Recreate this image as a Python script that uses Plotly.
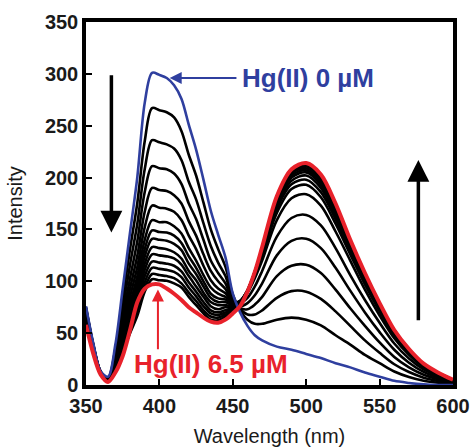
import plotly.graph_objects as go

# Wavelength grid (nm)
wavelength = [350, 355, 360, 365, 370, 375, 380, 385, 390, 395, 400, 405, 410, 415, 420,
              425, 430, 435, 440, 445, 450, 455, 460, 465, 470, 480, 490, 500, 510, 520,
              530, 540, 550, 560, 570, 580, 590, 600]

# Hg(II) 0 uM (blue)
hg_0uM = [76, 40, 13, 8, 39, 93, 147, 201, 272, 301, 299, 296, 289, 276, 251, 227, 198, 168,
          145, 123, 88, 70, 57, 48, 43, 37, 34, 30, 26, 21, 17, 12, 8, 4, 2, 0.6, 0, 0]

# Intermediate titration spectra (black)
c01 = [75, 39, 13, 7, 35, 83, 131, 176, 235, 267, 265, 263, 258, 245, 222, 202, 176, 150, 131,
       114, 87, 72, 63, 59, 59, 63, 65, 63, 57.5, 48, 39, 29, 21, 13, 7.7, 4.1, 2.1, 0.9]
c02 = [74, 38.5, 12.6, 6.2, 31, 73, 116, 156, 208, 236, 234, 232, 228, 217, 196, 179, 156, 134,
       118, 105, 83, 73, 68, 68, 72, 84, 90.5, 90, 83, 71, 57, 43, 31, 20, 12.5, 7.1, 3.9, 1.7]
c03 = [73, 38, 12.4, 5.7, 27, 65, 103, 139, 186, 211, 209, 208, 204, 194, 175, 160, 140, 120,
       108, 98, 81, 74, 73, 77.5, 85, 105, 115, 116, 108, 92, 74, 57, 41, 27, 17, 9.9, 5.5, 2.4]
c04 = [72, 37.4, 12.2, 5.2, 25, 59, 93, 125, 167, 190, 188, 187, 183, 175, 158, 144, 126, 110,
       100, 92.5, 80, 76, 79, 86.5, 98, 125, 139, 141, 132, 113, 91, 70, 51, 34, 21.5, 12.6, 7.1, 3.1]
c05 = [71, 36.9, 12.1, 4.9, 22.5, 54, 85, 114, 152, 173, 171, 170, 167, 159, 144, 131, 115, 101,
       93, 88.5, 80, 79, 84, 95, 110, 143, 161, 164, 154, 132, 106, 82, 60, 40, 25.5, 15, 8.5, 3.7]
c06 = [70, 36.4, 11.9, 4.6, 20.7, 49, 78, 105, 140, 159, 157, 157, 153, 146, 132, 120, 106, 94,
       88, 85, 80, 81, 89, 103, 120, 159, 180, 184, 173, 148, 120, 92, 67, 45, 29, 17, 9.7, 4.2]
c07 = [69, 35.9, 11.7, 4.4, 19.4, 46, 73, 98, 131, 149, 147.5, 147, 144, 137, 124, 113, 100, 88,
       83.5, 82.5, 78.5, 81, 91, 106, 124.5, 166, 189, 193, 181, 155.5, 126, 97, 71, 47, 30.6, 18,
       10.3, 4.5]
c08 = [68, 35.4, 11.6, 4.2, 18.3, 44, 69, 93, 124, 141, 140, 139, 136, 130, 117, 107, 95, 84, 80,
       80, 77, 81, 91, 107, 127, 170, 193.5, 198, 186, 160, 129, 99, 73, 49, 31.5, 18.7, 10.7, 4.6]
c09 = [67, 34.8, 11.4, 4, 17.3, 41, 65, 88, 117, 133, 132, 131, 128, 122, 110, 101, 89, 80, 77,
       77, 76, 80, 91, 108, 128, 173, 197, 202, 190, 163, 132, 101.5, 74, 50, 32, 19, 10.9, 4.7]
c10 = [66, 34.3, 11.2, 3.8, 16.4, 39, 62, 83, 111, 126, 125, 124, 122, 116, 105, 95, 85, 76, 73,
       75, 74, 80, 91, 109, 130, 175, 200, 205, 193, 166, 134, 103, 76, 51, 33, 19.5, 11.2, 4.8]
c11 = [65, 33.8, 11.1, 3.7, 15.5, 37, 58, 78.5, 105, 119, 118, 117, 115, 109.5, 99, 90, 80, 72,
       70, 72, 73, 79, 91, 109, 130, 176.5, 202, 207, 195, 167, 135, 104, 76, 51, 33, 19.7, 11.3, 4.9]
c12 = [64, 33.3, 10.9, 3.6, 14.7, 35, 55, 75, 99, 113, 112, 111, 109, 104, 94, 85.5, 76, 69,
       67.5, 70, 71.5, 78, 91, 109, 131, 178, 204, 209, 197, 169, 137, 105, 77, 52, 34, 20, 11.5, 4.9]
c13 = [63, 32.8, 10.7, 3.4, 13.9, 33, 52, 71, 94, 107, 106, 105, 103, 98, 89, 81, 72, 66, 65,
       68, 70, 77, 90, 109, 131.5, 179, 205.5, 211, 199, 171, 138, 106.5, 78, 52.5, 34, 20, 11.6, 5]
c14 = [62, 32.2, 10.5, 3.2, 13.3, 32, 50, 67, 90, 102, 101, 100.5, 98, 94, 85, 77, 69, 63, 62.5,
       66, 69, 76.5, 90, 109, 131.5, 180, 206, 212, 200, 172, 139, 107, 78.5, 53, 34.3, 20.4, 11.7, 5]
intermediate = [c01, c02, c03, c04, c05, c06, c07, c08, c09, c10, c11, c12, c13, c14]

# Hg(II) 6.5 uM (red)
hg_6_5uM = [58, 30, 10, 3, 12, 28, 53, 80, 93, 97, 97, 93, 88, 82, 75, 70, 65, 61, 60, 63, 69,
            76, 90, 109, 133, 182, 208, 214, 203, 175, 140, 108, 79, 53, 34.7, 20.6, 11.9, 5.1]

x_ticks = [350, 400, 450, 500, 550, 600]
y_ticks = [0, 50, 100, 150, 200, 250, 300, 350]

BLUE = "#2f3f9f"
RED = "#e8222b"
FONT = "Liberation Sans, Arial, sans-serif"
TXT = "#1a1a1a"

fig = go.Figure()
for series in intermediate:
    fig.add_trace(go.Scatter(x=wavelength, y=series, mode="lines",
                             line=dict(color="black", width=2.6, shape="spline", smoothing=0.9),
                             showlegend=False, hoverinfo="skip"))
fig.add_trace(go.Scatter(x=wavelength, y=hg_0uM, mode="lines",
                         line=dict(color=BLUE, width=2.6, shape="spline", smoothing=0.9),
                         showlegend=False))
fig.add_trace(go.Scatter(x=wavelength, y=hg_6_5uM, mode="lines",
                         line=dict(color=RED, width=4, shape="spline", smoothing=0.9),
                         showlegend=False))

annotations = [
    # big down arrow
    dict(x=367.3, y=147, ax=367.3, ay=300, xref="x", yref="y", axref="x", ayref="y",
         text="", showarrow=True, arrowhead=2, arrowsize=1.25, arrowwidth=3.5,
         arrowcolor="black", standoff=0),
    # big up arrow
    dict(x=576.4, y=217, ax=576.4, ay=61, xref="x", yref="y", axref="x", ayref="y",
         text="", showarrow=True, arrowhead=2, arrowsize=1.25, arrowwidth=3.5,
         arrowcolor="black", standoff=0),
    # blue pointer
    dict(x=407, y=296, ax=453.5, ay=296, xref="x", yref="y", axref="x", ayref="y",
         text="", showarrow=True, arrowhead=2, arrowsize=1.2, arrowwidth=2,
         arrowcolor=BLUE, standoff=0),
    dict(x=455, y=296, xref="x", yref="y", text="<b>Hg(II) 0 µM</b>", showarrow=False,
         xanchor="left", yanchor="middle", font=dict(family=FONT, size=26, color=BLUE)),
    # red pointer
    dict(x=399, y=92, ax=399, ay=33, xref="x", yref="y", axref="x", ayref="y",
         text="", showarrow=True, arrowhead=2, arrowsize=1.2, arrowwidth=2,
         arrowcolor=RED, standoff=0),
    dict(x=381, y=20, xref="x", yref="y", text="<b>Hg(II) 6.5 µM</b>", showarrow=False,
         xanchor="left", yanchor="middle", font=dict(family=FONT, size=26, color=RED)),
]

fig.update_layout(
    width=473, height=447,
    margin=dict(l=86, r=20, t=22, b=62),
    paper_bgcolor="white", plot_bgcolor="white",
    font=dict(family=FONT, color=TXT),
    annotations=annotations,
    xaxis=dict(range=[350, 600], tickvals=x_ticks, ticktext=[str(v) for v in x_ticks],
               automargin=False,
               ticks="inside", ticklen=6, tickwidth=2, tickcolor="black",
               showline=True, linecolor="black", linewidth=3.5, mirror=True,
               showgrid=False, zeroline=False,
               tickfont=dict(family=FONT, size=20, color=TXT, weight="bold"),
               title=dict(text="Wavelength (nm)", standoff=15,
                          font=dict(family=FONT, size=20, color=TXT))),
    yaxis=dict(range=[0, 350], tickvals=y_ticks, ticktext=[str(v) for v in y_ticks],
               automargin=False,
               ticks="inside", ticklen=6, tickwidth=2, tickcolor="black",
               showline=True, linecolor="black", linewidth=3.5, mirror=True,
               showgrid=False, zeroline=False,
               tickfont=dict(family=FONT, size=20, color=TXT, weight="bold"),
               title=dict(text="Intensity", standoff=18,
                          font=dict(family=FONT, size=20, color=TXT))),
)

fig.write_html("out.html", config={"displayModeBar": False},
               post_script="document.body.style.margin='0';document.body.style.padding='0';")
